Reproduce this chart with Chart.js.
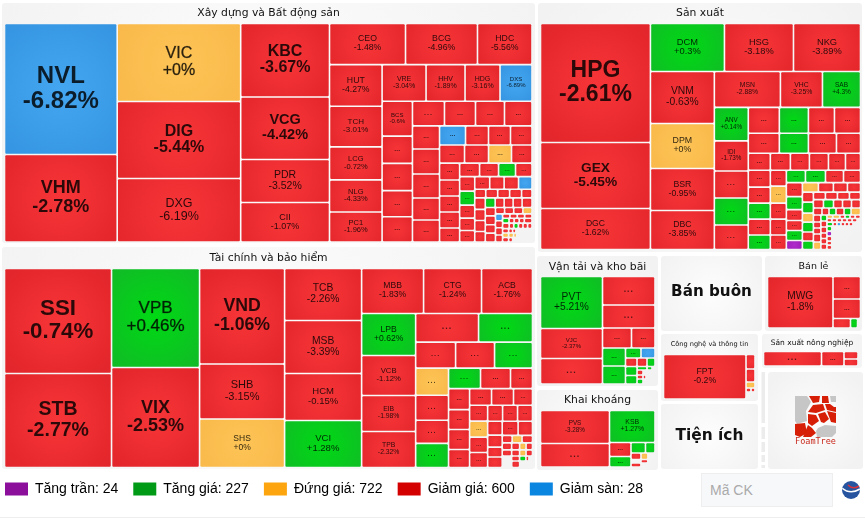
<!DOCTYPE html>
<html>
<head>
<meta charset="utf-8">
<title>Market map</title>
<script src="https://cdn.jsdelivr.net/npm/chart.js@4/dist/chart.umd.min.js"></script>
<style>
  html, body { margin: 0; padding: 0; background: #fff; }
  #wrap { position: relative; width: 865px; height: 525px; overflow: hidden; }
  #map { display: block; }
  #code {
    position: absolute; left: 701px; top: 473px; width: 132px; height: 34px; box-sizing: border-box;
    border: 1px solid #eee; background: #f7f8fa; padding: 0 8px; font: 14px "Liberation Sans", Arial, sans-serif; color: #555;
  }
  #code::placeholder { color: #aaa; }
  #rule { position: absolute; left: 0; top: 517px; width: 865px; height: 1px; background: #eee; }
</style>
</head>
<body>
<div id="wrap">
  <canvas id="map" width="865" height="525"></canvas>
  <input id="code" placeholder="Mã CK">
  <div id="rule"></div>
</div>
<script>
// legend
const legendNames = ['Tăng trần', 'Tăng giá', 'Đứng giá', 'Giảm giá', 'Giảm sàn'];
const legendCounts = [24, 227, 722, 600, 28];

// Xây dựng và Bất động sản
const xdNames = ['NVL','VHM','VIC','DIG','DXG','KBC','VCG','PDR','CII','CEO','BCG','HDC','HUT','TCH','LCG','NLG','PC1','VRE','HHV','HDG','DXS','BCS'];
const xdValues = [14700,9830, 9594,9471,7810, 6500,5530,3800,3500, 3116,2950,2235, 2180,2126,1730,1680,1575,
  1606,1424,1278,1168, 1052,824,824,793,762, 784,760,710,674, 621,675,648,594,594, 494,437,418,409, 450,432,414,369,
  340,320,320,320,280, 270,257,230,223, 218,210,195,188,172, 188,181,181,169, 94,102,102,102,89, 121,116,116,110,
  95,86,86,86,95, 85,90,85,90, 58,58,58,58, 49,49,52,49, 32,32,32,32, 32,25,25,25,38, 36,25,25,25,25,24,
  27,18,14,72, 27,22,14,68, 27,18,86];
const xdChanges = [-6.82,-2.78, 0,-5.44,-6.19, -3.67,-4.42,-3.52,-1.07, -1.48,-4.96,-5.56, -4.27,-3.01,-0.72,-4.33,-1.96,
  -3.04,-1.89,-3.16,-6.89, -0.6,-1,-1,-1,-1, -1,-1,-1,-1, -1,-1,-1,-1,-1, -6.9,-1,-1,-1, -1,-1,0,-1,
  -1,-1,-1,-1,-1, -1,-1,1,-1, -1,1,-1,-1,-1, -1,-1,-1,-6.9, -1,-1,-1,-1,-1, -1,-1,-1,-1,
  1,-1,-1,-1,-1, -1,-1,-1,-1, -1,-1,-1,0, -6.9,-1,-1,-1, -1,-1,-1,-1, 1,-1,-1,-1,-1, -1,-1,1,-1,-1,-1,
  -1,-1,-1,null, 0,0,0,null, -1,-1,null];
const xdStrips = ['c2','c3','c4','r3','c5','r4','c5','r4','c5','r4','r4','c5','r4','c5','r4','r5','c4','r5','c4','r4','c4','r4','r5','r6','r4','r4','r3'];

// Tài chính và bảo hiểm
const tcNames = ['SSI','STB','VPB','VIX','VND','SHB','SHS','TCB','MSB','HCM','VCI','MBB','CTG','ACB','LPB','VCB','EIB','TPB'];
const tcValues = [11235,10058, 8712,8800, 8118,4675,4122, 4004,4081,3619,3619, 2790,2610,2295, 2268,2160,1944,1944,
  1795,1539, 1040,1014,988, 891,825,759,792, 656,615,451, 441,420,420,378, 363,363,314, 288,288,279,270, 240,240,240,
  203,174,145,152, 224,203, 75,75,79, 66,56,45,45, 57,48,39,39, 47,40,32,15,18, 62,52,84];
const tcChanges = [-0.74,-2.77, 0.46,-2.53, -1.06,-3.15,0, -2.26,-3.39,-0.15,1.28, -1.83,-1.24,-1.76, 0.62,-1.12,-1.98,-2.32,
  -1,1, -1,-1,1, 0,-1,-1,1, 1,-1,-1, -1,-1,-1,-1, -1,-1,-1, -1,0,-1,-1, -1,-1,-1,
  -1,-1,-1,-1, -1,-1, -1,0,-1, -1,-1,0,-1, -1,-1,0,-1, null,-1,1,-1,null, null,-1,null];
const tcStrips = ['c2','c2','c3','c4','r3','c4','r2','r3','c4','r3','c4','r3','c4','r3','c4','r2','r3','r4','r4','r5','r3'];

// Sản xuất
const sxNames = ['HPG','GEX','DGC','DCM','HSG','NKG','VNM','DPM','BSR','DBC','MSN','VHC','SAB','ANV','IDI'];
const sxValues = [13090,7260,4510, 3552,3312,3216, 3328,2880,2688,2496, 2376,1512,1368, 1139,1020,918,918,833,
  806,754,676,676, 620,580,560,480, 374,340,323,323,289,255, 374,352,352,352,319, 256,272,256,256,232, 238,250,225,212,
  224,208,176,160,160,144, 152,142,133,124, 110,121,99,110,99,93, 90,90,90,83, 85,85,76,76,76, 60,49,49,56,49,66,
  52,45,45,60,56, 36,36,36,33,33,33, 21,25,18,18,18,19, 18,18,18,18,18,18,12, 24,16,16,16,16,16,30, 25,25,25,20,22, 670];
const sxChanges = [-2.61,-5.45,-1.62, 0.3,-3.18,-3.89, -0.63,0,-0.95,-3.85, -2.88,-3.25,4.3, 0.14,-1.73,-1,1,-1,
  -1,1,-1,-1, -1,1,-1,-1, -1,-1,-1,-1,-1,-1, -1,-1,1,-1,1, -1,0,-1,-1,-1, 1,1,-1,-1,
  -1,1,-1,-1,1,6.9, 0,-1,-1,-1, -1,1,0,1,-1,1, -1,-1,-1,-1, -1,1,-1,-1,-1, -1,-1,1,-1,1,0,
  -1,-1,-1,-1,0, 1,-1,-1,-1,-1,-1, 0,0,-1,1,-1,-1, -1,-1,-1,-1,-1,-1,null, 1,-1,-6.9,-1,-1,-1,null, 1,6.9,-1,-1,-1, null];
const sxStrips = ['c3','r3','c4','r3','c5','r4','r4','r6','c5','c5','r4','c6','r4','c6','r4','r5','r6','c5','c6','r6','r7','r7','c5','c1'];

// Vận tải và kho bãi
const vtNames = ['PVT','VJC'];
const vtValues = [3224,1860,1581, 1496, 1208, 580,470, 414,414, 155,140, 98,85,68, 104,98, 35,18,10, 30,60, 24,12,36, 30,60];
const vtChanges = [5.21,-2.37,-1, -1, -1, -1,-1, 1,1, 1,-6.9, -1,-1,1, 1,1, 1,1,null, -1,null, -1,-1,null, 1,null];
const vtStrips = ['c3','r1','r1','r2','c2','r2','r3','c2','r3','r2','r3','r2'];

// Khai khoáng
const kkNames = ['PVS','...','KSB'];
const kkValues = [2277,1622, 1456, 301,226, 152,100, 65,45,46, 35,25,25, 40,56];
const kkChanges = [-3.28,-1, 1.27, -1,1, 1,1, -1,0,null, null,-1,null, -1,null];
const kkStrips = ['c2','r1','c2','r2','r3','r3','r2'];

// Bán lẻ
const blNames = ['MWG'];
const blValues = [3373, 619, 536, 166,67,28];
const blChanges = [-1.8, -1, -1, -1,1,null];
const blStrips = ['c1','r1','r1','r3'];

// Công nghệ và thông tin
const cnNames = ['FPT'];
const cnValues = [3671, 130, 117, 54, 20,16, 63];
const cnChanges = [-0.2, -1, -1, 0, -1,-1, null];
const cnStrips = ['c1','r1','r1','r1','r2','r1'];

// Sản xuất nông nghiệp
const nnNames = [];
const nnValues = [841, 326, 105,98];
const nnChanges = [-1, -1, -1,-1];
const nnStrips = ['c1','c1','c2'];

// panels, in picture units
const panels = [
  { box: [2,3,535,243], area: [4.5,23.5,532,242], title: 'Xây dựng và Bất động sản', titleY: 13, titleSize: 10.8, names: xdNames, values: xdValues, changes: xdChanges, strips: xdStrips },
  { box: [2,247,535,469], area: [4.5,268.5,532.5,467.5], title: 'Tài chính và bảo hiểm', titleY: 258, titleSize: 10.8, names: tcNames, values: tcValues, changes: tcChanges, strips: tcStrips },
  { box: [538,3,862,252], area: [540.5,23.5,860.5,249.5], title: 'Sản xuất', titleY: 13, titleSize: 10.8, names: sxNames, values: sxValues, changes: sxChanges, strips: sxStrips },
  { box: [537,256,658,386], area: [540.5,276.5,655,384], title: 'Vận tải và kho bãi', titleY: 267, titleSize: 10.8, names: vtNames, values: vtValues, changes: vtChanges, strips: vtStrips },
  { box: [537,390,658,470], area: [540.5,410.5,655,467], title: 'Khai khoáng', titleY: 400, titleSize: 10.8, names: kkNames, values: kkValues, changes: kkChanges, strips: kkStrips },
  { box: [661,256,762,331], title: 'Bán buôn', titleY: 292, titleSize: 15.2, bold: true },
  { box: [765,256,862,331], area: [767.5,276.5,860.5,328], title: 'Bán lẻ', titleY: 267, titleSize: 9.5, names: blNames, values: blValues, changes: blChanges, strips: blStrips },
  { box: [661,334,758,401], area: [663.5,354.5,755,399], title: 'Công nghệ và thông tin', titleY: 344, titleSize: 6.6, names: cnNames, values: cnValues, changes: cnChanges, strips: cnStrips },
  { box: [762,334,862,368], area: [763.5,351.5,858,366], title: 'Sản xuất nông nghiệp', titleY: 343, titleSize: 7.5, names: nnNames, values: nnValues, changes: nnChanges, strips: nnStrips },
  { box: [661,404,758,469], title: 'Tiện ích', titleY: 436, titleSize: 15.4, bold: true },
  { box: [768,372,863,469] }
];

// font size and weight for the named cells
const labelStyle = {
  NVL:[24,1],VHM:[18,1],VIC:[16,0.5],DIG:[16,1],DXG:[12.5,0],KBC:[16,1],VCG:[14.5,1],PDR:[10.5,0],CII:[9,0],CEO:[8.7,0],BCG:[8.7,0],HDC:[8.7,0],
  HUT:[8.7,0],TCH:[8,0],LCG:[7.5,0],NLG:[7.5,0],PC1:[7.5,0],VRE:[7,0],HHV:[7,0],HDG:[7,0],DXS:[6,0],BCS:[6,0],
  SSI:[22.3,1],STB:[19.5,1],VPB:[17,0.5],VIX:[18,1],VND:[17.7,1],SHB:[11,0],SHS:[8.5,0],TCB:[10.3,0],MSB:[10.3,0],HCM:[9.5,0],VCI:[9.5,0],
  MBB:[8.6,0],CTG:[8.6,0],ACB:[8.6,0],LPB:[8.6,0],VCB:[7.7,0],EIB:[6.8,0],TPB:[6.8,0],
  HPG:[23,1],GEX:[13.7,1],DGC:[8.6,0],DCM:[9.3,0],HSG:[9.3,0],NKG:[9.3,0],VNM:[10.3,0],DPM:[8.8,0],BSR:[8.7,0],DBC:[8.7,0],MSN:[6.8,0],VHC:[6.8,0],SAB:[6.5,0],ANV:[6.3,0],IDI:[6.3,0],
  PVT:[10.2,0],VJC:[6,0],PVS:[6.3,0],KSB:[6.9,0],MWG:[10.2,0],FPT:[8.7,0]
};

const legendColors = ['#8b0f9b', '#009a16', '#fda50f', '#d40000', '#0a85e0'];

function changeColors(c) {
  if (c >= 6.5) return ['#b02ccb', '#9a1cb6'];
  if (c > 0) return ['#00d914', '#10bc26'];
  if (c === 0) return ['#fdc455', '#f9b84a'];
  if (c <= -6.5) return ['#44a6f0', '#3595e2'];
  return ['#f73538', '#e3262b'];
}

// cut the panel area strip by strip: c = column on the left, r = row on top
function layoutPanel(p) {
  let [x0, y0, x1, y1] = p.area;
  const total = p.values.reduce((a, b) => a + b, 0);
  const k = (x1 - x0) * (y1 - y0) / total;
  const cells = [];
  let i = 0;
  p.strips.forEach(s => {
    const n = +s.slice(1);
    const part = p.values.slice(i, i + n);
    const sum = part.reduce((a, b) => a + b, 0) * k;
    if (s[0] === 'c') {
      const w = sum / (y1 - y0);
      let y = y0;
      part.forEach((v, j) => {
        const h = v * k / w;
        cells.push({ x: x0, y: y, w: w, h: h, idx: i + j });
        y += h;
      });
      x0 += w;
    } else {
      const h = sum / (x1 - x0);
      let x = x0;
      part.forEach((v, j) => {
        const w = v * k / h;
        cells.push({ x: x, y: y0, w: w, h: h, idx: i + j });
        x += w;
      });
      y0 += h;
    }
    i += n;
  });
  return cells
    .filter(c => p.changes[c.idx] !== null)
    .map(c => ({ x: c.x, y: c.y, w: c.w, h: c.h, change: p.changes[c.idx], name: p.names[c.idx] || '...' }));
}

// Chart.js has no treemap type, so a small controller places bar elements from both scales
class TreemapController extends Chart.DatasetController {
  update(mode) {
    const meta = this.getMeta();
    this.updateElements(meta.data, 0, meta.data.length, mode);
  }
  updateElements(rects, start, count, mode) {
    const meta = this.getMeta();
    const data = this.getDataset().data;
    const gap = 0.8;
    for (let i = start; i < start + count; i++) {
      const d = data[i];
      const x0 = meta.xScale.getPixelForValue(d.x) + gap;
      const x1 = meta.xScale.getPixelForValue(d.x + d.w) - gap;
      const y0 = meta.yScale.getPixelForValue(d.y) + gap;
      const y1 = meta.yScale.getPixelForValue(d.y + d.h) - gap;
      this.updateElement(rects[i], i, {
        x: (x0 + x1) / 2, y: y0, base: y1, width: x1 - x0, height: y1 - y0,
        horizontal: false, inflateAmount: 0, enableBorderRadius: true,
        borderSkipped: { top: false, left: false, bottom: false, right: false },
        options: this.resolveDataElementOptions(i, mode)
      }, mode);
    }
  }
  draw() {
    const ctx = this.chart.ctx;
    this.getMeta().data.forEach(el => el.draw(ctx));
  }
}
TreemapController.id = 'treemap';
TreemapController.defaults = { dataElementType: 'bar', datasetElementType: false };
Chart.register(TreemapController);

function cellFill(context) {
  const d = context.raw;
  if (!d) return '#e3262b';
  const xs = context.chart.scales.x, ys = context.chart.scales.y;
  const cx = xs.getPixelForValue(d.x + d.w / 2), cy = ys.getPixelForValue(d.y + d.h / 2);
  const r = Math.max(d.w, d.h) * 0.62;
  const pair = changeColors(d.change);
  const g = context.chart.ctx.createRadialGradient(cx, cy, 0, cx, cy, r);
  g.addColorStop(0, pair[0]);
  g.addColorStop(1, pair[1]);
  return g;
}

function drawLogo(ctx) {
  const grey = '#c6c6c6', red = '#d61f06';
  const cells = [
    [grey, [[795,396],[807,396],[811,402],[806,411],[807,421],[797,424],[795,421]]],
    [red, [[809,396],[820,396],[819,402],[813,403]]],
    [red, [[822,396],[828,396],[829,403],[822,403]]],
    [grey, [[830,396],[836,396],[836,402],[831,402]]],
    [red, [[813,405],[823,404],[825,410],[816,413],[808,412]]],
    [red, [[825,404],[830,404],[834,407],[836,407],[836,412],[827,410]]],
    [red, [[808,414],[816,415],[819,421],[812,426],[808,423]]],
    [red, [[818,414],[825,412],[829,419],[824,423],[821,422]]],
    [red, [[827,411],[836,413],[836,423],[831,422]]],
    [red, [[795,424],[805,423],[807,433],[800,437],[795,435]]],
    [red, [[808,425],[812,428],[816,433],[811,437],[803,437]]],
    [grey, [[818,428],[825,425],[836,426],[836,433],[832,437],[817,437],[816,431]]]
  ];
  cells.forEach(c => {
    ctx.fillStyle = c[0];
    ctx.beginPath();
    c[1].forEach((p, i) => i ? ctx.lineTo(p[0], p[1]) : ctx.moveTo(p[0], p[1]));
    ctx.closePath();
    ctx.fill();
  });
  ctx.fillStyle = '#c8281c';
  ctx.font = '8.5px "DejaVu Sans Mono", monospace';
  ctx.textAlign = 'center';
  ctx.textBaseline = 'middle';
  ctx.fillText('FoamTree', 815.5, 442);
}

function drawGlobe(ctx) {
  ctx.save();
  ctx.beginPath();
  ctx.arc(851, 490, 9, 0, Math.PI * 2);
  ctx.fillStyle = '#26549f';
  ctx.fill();
  ctx.clip();
  ctx.strokeStyle = '#fff';
  ctx.lineWidth = 1.6;
  ctx.beginPath();
  ctx.moveTo(842, 488);
  ctx.quadraticCurveTo(850, 495, 860, 489);
  ctx.stroke();
  ctx.strokeStyle = '#d8323a';
  ctx.beginPath();
  ctx.moveTo(848, 485);
  ctx.quadraticCurveTo(853, 490, 859, 486);
  ctx.stroke();
  ctx.restore();
}

const panelPlugin = {
  id: 'panels',
  afterLayout(chart) {
    // the legend starts at the left edge of the picture
    chart.legend.left = -10;
  },
  beforeDatasetsDraw(chart) {
    const ctx = chart.ctx, xs = chart.scales.x, ys = chart.scales.y;
    ctx.save();
    panels.forEach(p => {
      const x0 = xs.getPixelForValue(p.box[0]), x1 = xs.getPixelForValue(p.box[2]);
      const y0 = ys.getPixelForValue(p.box[1]), y1 = ys.getPixelForValue(p.box[3]);
      const cx = (x0 + x1) / 2, cy = (y0 + y1) / 2;
      const g = ctx.createRadialGradient(cx, cy, 0, cx, cy, Math.max(x1 - x0, y1 - y0) * 0.6);
      g.addColorStop(0, '#fdfdfd');
      g.addColorStop(1, '#f2f2f2');
      ctx.fillStyle = g;
      ctx.beginPath();
      ctx.roundRect(x0, y0, x1 - x0, y1 - y0, 3);
      ctx.fill();
      if (p.title) {
        ctx.fillStyle = '#111';
        ctx.font = (p.bold ? 'bold ' : '') + p.titleSize + 'px "DejaVu Sans", sans-serif';
        ctx.textAlign = 'center';
        ctx.textBaseline = 'middle';
        ctx.fillText(p.title, cx, ys.getPixelForValue(p.titleY));
      }
    });
    // scroll strip next to the logo
    ctx.fillStyle = '#ececec';
    [[372,51],[427,12],[442,10],[455,7],[465,3]].forEach(s => ctx.fillRect(761.5, s[0], 3.5, s[1]));
    drawLogo(ctx);
    ctx.restore();
  },
  afterDatasetsDraw(chart) {
    const ctx = chart.ctx;
    const data = chart.data.datasets[0].data;
    ctx.save();
    ctx.textAlign = 'center';
    ctx.textBaseline = 'middle';
    chart.getDatasetMeta(0).data.forEach((el, i) => {
      const d = data[i];
      const cx = el.x, cy = (el.y + el.base) / 2;
      ctx.fillStyle = 'rgba(0,0,0,0.82)';
      if (d.name === '...') {
        if (el.width < 13 || el.base - el.y < 8) return;
        ctx.fillStyle = 'rgba(0,0,0,0.65)';
        ctx.font = 'bold ' + Math.min(9, 5 + el.width / 14) + 'px "Liberation Sans", Arial, sans-serif';
        ctx.letterSpacing = el.width > 30 ? '1px' : '0px';
        ctx.fillText('...', cx, cy - 1);
        ctx.letterSpacing = '0px';
        return;
      }
      const st = labelStyle[d.name];
      const size = st[0];
      ctx.font = (st[1] === 1 ? 'bold ' : '') + size + 'px "Liberation Sans", Arial, sans-serif';
      const pct = (d.change > 0 || d.change === 0 ? '+' : '-') + Math.abs(d.change) + '%';
      const off = size * 0.52;
      ctx.fillText(d.name, cx, cy - off - 0.5);
      ctx.fillText(pct, cx, cy + off - 0.5);
      if (st[1] === 0.5) {
        ctx.strokeStyle = 'rgba(0,0,0,0.4)';
        ctx.lineWidth = 0.6;
        ctx.strokeText(d.name, cx, cy - off - 0.5);
        ctx.strokeText(pct, cx, cy + off - 0.5);
      }
    });
    drawGlobe(ctx);
    ctx.restore();
  }
};

const mapCells = panels.filter(p => p.area).flatMap(layoutPanel);

const chart = new Chart(document.getElementById('map').getContext('2d'), {
  type: 'treemap',
  data: {
    datasets: [{ data: mapCells, clip: false, backgroundColor: cellFill, borderWidth: 0, borderRadius: 1 }]
  },
  plugins: [panelPlugin],
  options: {
    responsive: false,
    animation: false,
    events: [],
    parsing: { xAxisKey: 'x', yAxisKey: 'y' },
    layout: { padding: { left: 0, right: 0, top: 0, bottom: 19 } },
    scales: {
      x: { type: 'linear', min: 0, max: 865, display: false },
      y: { type: 'linear', min: 0, max: 460, reverse: true, display: false }
    },
    plugins: {
      tooltip: { enabled: false },
      legend: {
        position: 'bottom',
        align: 'start',
        onClick: null,
        labels: {
          boxWidth: 23,
          boxHeight: 13,
          padding: 15,
          color: '#808080',
          font: { family: '"Liberation Sans", Arial, sans-serif', size: 14 },
          generateLabels: () => legendNames.map((name, i) => ({
            text: name + ': ' + legendCounts[i],
            fillStyle: legendColors[i],
            strokeStyle: legendColors[i],
            lineWidth: 0,
            hidden: false
          }))
        }
      }
    }
  }
});
// one picture unit is one pixel, whatever height the legend leaves
chart.options.scales.y.max = chart.chartArea.bottom;
chart.update();
</script>
</body>
</html>
